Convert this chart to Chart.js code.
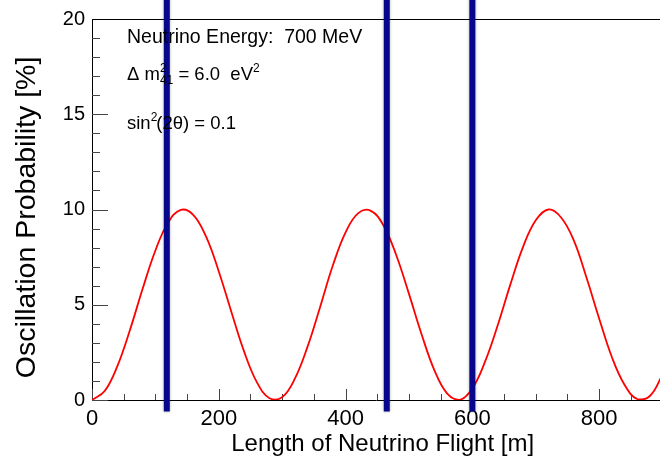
<!DOCTYPE html>
<html>
<head>
<meta charset="utf-8">
<script src="https://cdn.jsdelivr.net/npm/chart.js@4"></script>
<style>
  html, body { margin: 0; padding: 0; background: #fff; }
  #wrap { width: 660px; height: 463px; }
</style>
</head>
<body>
<div id="wrap"><canvas id="osc-chart" width="660" height="463"></canvas></div>
<script>
// flight length [m] and appearance probability [%]
const lengths = [0, 20, 40, 60, 80, 100, 120, 140, 160, 180, 200, 220, 240, 260, 280, 300,
  320, 340, 360, 380, 400, 420, 440, 460, 480, 500, 520, 540, 560, 580, 600,
  620, 640, 660, 680, 700, 720, 740, 760, 780, 800, 820, 840, 860, 880, 900];
const probability = [0, 0.47, 1.78, 3.69, 5.85, 7.85, 9.31, 9.98, 9.71, 8.57, 6.75, 4.61, 2.54, 0.94, 0.09, 0.15,
  1.12, 2.80, 4.90, 7.07, 8.80, 9.81, 9.93, 9.15, 7.60, 5.57, 3.44, 1.57, 0.35, 0.01, 0.61,
  2.01, 3.92, 6.07, 8.04, 9.43, 10.0, 9.58, 8.38, 6.43, 4.28, 2.26, 0.80, 0.05, 0.21, 1.33];
// detector positions [m]
const detectors = [118, 465, 600];
const xTicks = [0, 200, 400, 600, 800];
const yTicks = [0, 5, 10, 15, 20];

const FONT = '"Liberation Sans", Arial, Helvetica, sans-serif';

const curve = {
  data: lengths.map((l, i) => ({x: l, y: probability[i]})),
  borderColor: '#ff0000',
  borderWidth: 1.8,
  pointRadius: 0,
  tension: 0.4,
  order: 2
};

const markers = detectors.map(d => ({
  data: [{x: d, y: -0.6}, {x: d, y: 21.5}],
  borderColor: '#07078c',
  borderWidth: 6,
  pointRadius: 0,
  clip: false,
  order: 1,
  glow: true
}));

// ROOT-like frame: inward ticks and the top border
const frame = {
  id: 'frame',
  beforeDatasetsDraw(chart) {
    const {ctx, chartArea: a, scales: {x, y}} = chart;
    ctx.save();
    ctx.strokeStyle = '#444';
    ctx.lineWidth = 1;
    ctx.beginPath();
    for (let v = 0; v <= 20; v += 1) {
      const py = Math.round(y.getPixelForValue(v)) + 0.5;
      ctx.moveTo(a.left, py);
      ctx.lineTo(a.left + (v % 5 === 0 ? 16 : 8), py);
    }
    for (let v = 0; v <= x.max; v += 50) {
      const px = Math.round(x.getPixelForValue(v)) + 0.5;
      ctx.moveTo(px, a.bottom);
      ctx.lineTo(px, a.bottom - (v % 200 === 0 ? 11 : 6));
    }
    ctx.stroke();
    ctx.strokeStyle = '#000';
    ctx.beginPath();
    ctx.moveTo(a.left, a.top + 0.5);
    ctx.lineTo(a.right, a.top + 0.5);
    ctx.stroke();
    ctx.restore();
  },
  beforeDatasetDraw(chart, args) {
    if (!chart.data.datasets[args.index].glow) return;
    chart.ctx.save();
    chart.ctx.shadowColor = 'rgba(0,0,0,0.35)';
    chart.ctx.shadowBlur = 3;
  },
  afterDatasetDraw(chart, args) {
    if (!chart.data.datasets[args.index].glow) return;
    chart.ctx.restore();
  }
};

// parameter box in the upper left
const params = {
  id: 'params',
  afterDatasetsDraw(chart) {
    const {ctx, chartArea: a} = chart;
    const big = '18.5px ' + FONT, small = '12px ' + FONT;
    const x0 = a.left + 35;
    ctx.save();
    ctx.fillStyle = '#000';
    ctx.textBaseline = 'alphabetic';
    ctx.font = '19.5px ' + FONT;
    ctx.fillText('Neutrino Energy:  700 MeV', x0, a.top + 24);

    let y = a.top + 61, x = x0;
    ctx.font = big;
    ctx.fillText('\u0394 m', x, y);
    x += ctx.measureText('\u0394 m').width;
    ctx.font = small;
    ctx.fillText('2', x, y - 8);
    ctx.fillText('41', x, y + 4);
    x += ctx.measureText('41').width;
    ctx.font = big;
    ctx.fillText(' = 6.0  eV', x, y);
    x += ctx.measureText(' = 6.0  eV').width;
    ctx.font = small;
    ctx.fillText('2', x, y - 8);

    y = a.top + 110; x = x0;
    ctx.font = big;
    ctx.fillText('sin', x, y);
    x += ctx.measureText('sin').width;
    ctx.font = small;
    ctx.fillText('2', x, y - 8);
    x += ctx.measureText('2').width - 1;
    ctx.font = big;
    ctx.fillText('(2\u03b8) = 0.1', x, y);
    ctx.restore();
  }
};

new Chart(document.getElementById('osc-chart'), {
  type: 'line',
  data: {datasets: [...markers, curve]},
  options: {
    responsive: false,
    animation: false,
    layout: {padding: {top: 17, right: 0, left: 0, bottom: 0}},
    plugins: {legend: {display: false}, tooltip: {enabled: false}},
    scales: {
      x: {
        type: 'linear',
        min: 0,
        max: 896,
        afterBuildTicks: s => { s.ticks = xTicks.map(v => ({value: v})); },
        afterFit: s => { s.height = 63; },
        grid: {display: false, drawTicks: false},
        border: {display: true, color: '#000', width: 1},
        ticks: {color: '#000', padding: 6, font: {family: FONT, size: 22}, maxRotation: 0},
        title: {
          display: true,
          text: '  Length of Neutrino Flight [m]',
          color: '#000',
          font: {family: FONT, size: 24},
          padding: {top: 0, bottom: 4}
        }
      },
      y: {
        min: 0,
        max: 20,
        afterBuildTicks: s => { s.ticks = yTicks.map(v => ({value: v})); },
        afterFit: s => { s.width = 92; },
        grid: {display: false, drawTicks: false},
        border: {display: true, color: '#000', width: 1},
        ticks: {color: '#000', padding: 7, font: {family: FONT, size: 20}},
        title: {
          display: true,
          text: 'Oscillation Probability [%]  ',
          color: '#000',
          font: {family: FONT, size: 28.5},
          padding: {top: 10, bottom: 0}
        }
      }
    }
  },
  plugins: [frame, params]
});
</script>
</body>
</html>
